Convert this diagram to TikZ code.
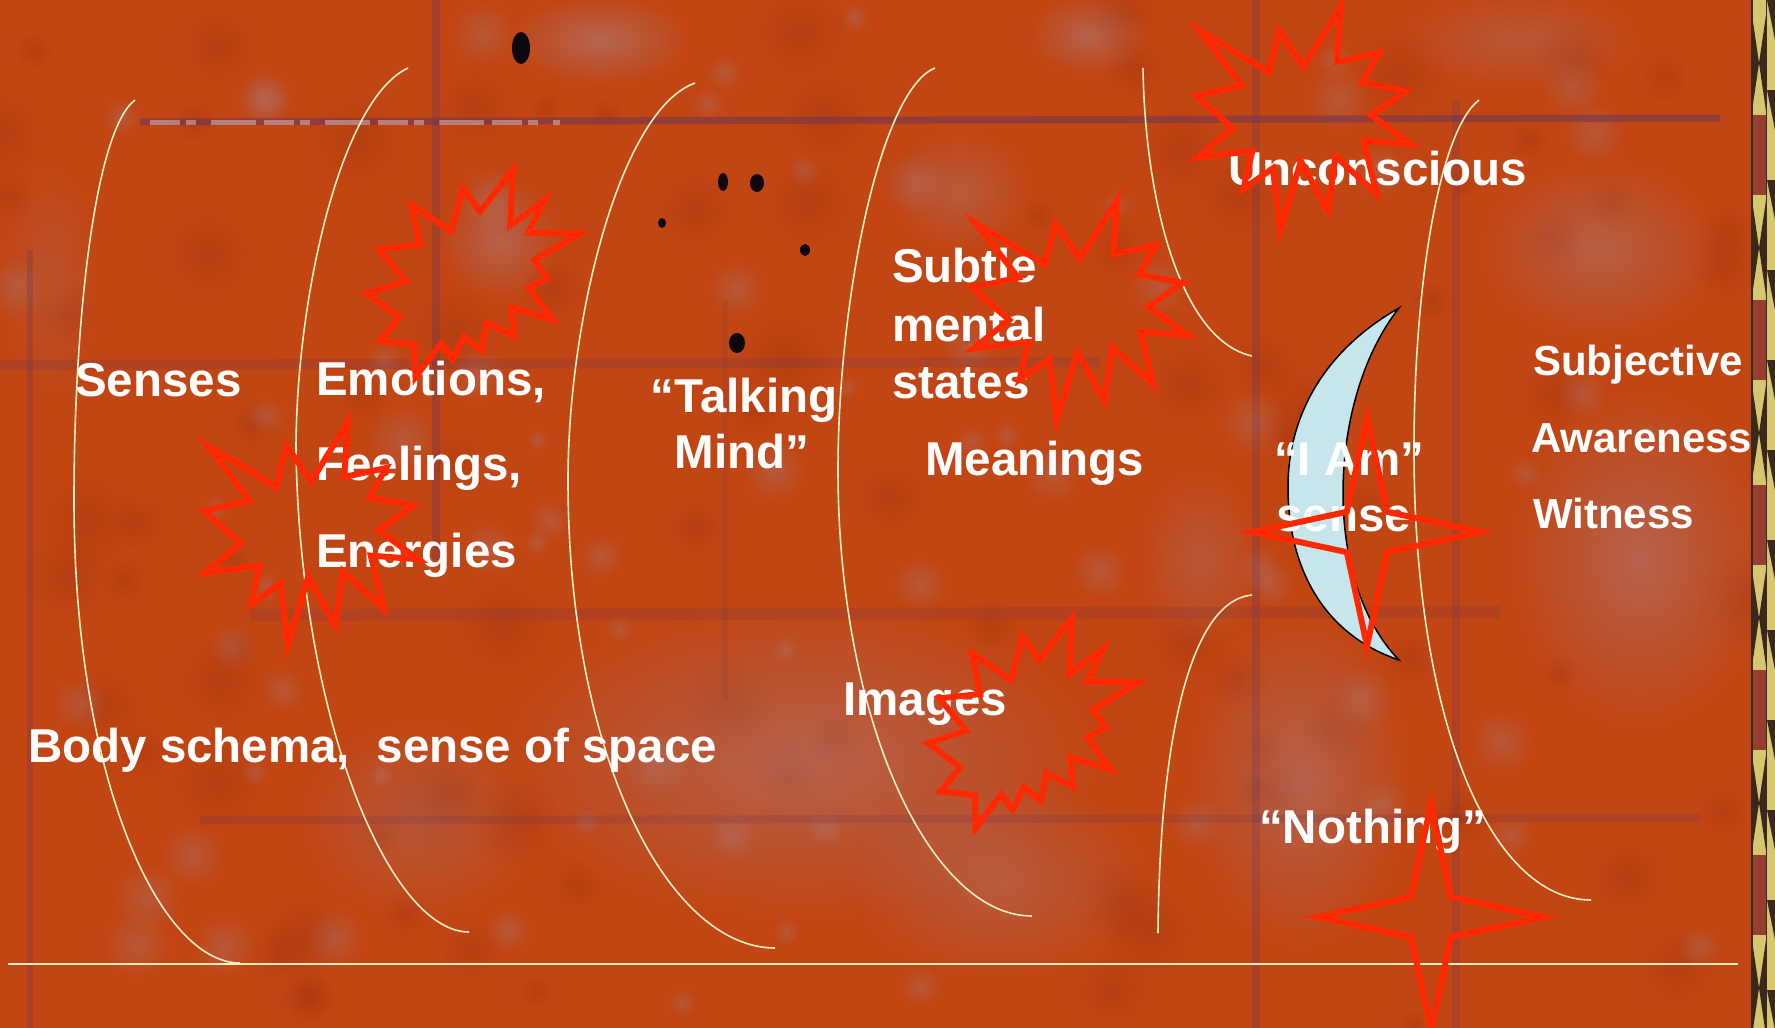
\documentclass[tikz,border=0pt]{standalone}
\usepackage{fontspec}
\setmainfont{Liberation Sans}
\usetikzlibrary{fadings}

\definecolor{rust}{RGB}{194,70,20}
\definecolor{deeprust}{RGB}{160,48,12}
\definecolor{smoke}{RGB}{165,132,145}
\definecolor{bruise}{RGB}{88,48,98}
\definecolor{cream}{RGB}{246,238,192}
\definecolor{flare}{RGB}{255,40,0}
\definecolor{moon}{RGB}{198,230,235}
\definecolor{gold}{RGB}{214,198,112}
\definecolor{stripdark}{RGB}{58,40,28}
\definecolor{brick}{RGB}{150,62,48}

\tikzfading[name=softblob, inner color=transparent!0, outer color=transparent!100]

\tikzset{
  wordtxt/.style={text=white, font=\bfseries\fontsize{47.5}{57}\selectfont, inner sep=0pt, anchor=base west},
  sidetxt/.style={wordtxt, font=\bfseries\fontsize{42}{50}\selectfont},
  bracket/.style={draw=cream, line width=1.6pt},
  boom/.style={draw=flare, line width=6pt, line join=miter},
  sparkle/.style={draw=flare, line width=6pt, line join=miter},
}

% explosion shapes, box at (#1,#2), width #3, height #4
\newcommand{\sealone}[4]{%
  \begin{scope}[shift={(#1,#2)}, xscale=#3/216, yscale=#4/216]
    \draw[boom] (108,58) -- (145.22,0) -- (141.55,53.25) -- (183.8,44.57) -- (167.02,73.15)
      -- (210.97,81.37) -- (176.07,104.75) -- (216,132.9) -- (168.37,129.42) -- (181.45,180.95)
      -- (140.2,144.57) -- (132.47,197.37) -- (105.32,149.35) -- (84.85,216) -- (77.15,156.27)
      -- (47.62,176.17) -- (56.67,139.37) -- (1.35,145.87) -- (37.22,117.75) -- (0,86.15)
      -- (46.27,76.17) -- (3.7,22.95) -- (73.12,63.2) -- (83.52,22.95) -- cycle;
  \end{scope}}
\newcommand{\sealtwo}[4]{%
  \begin{scope}[shift={(#1,#2)}, xscale=#3/216, yscale=#4/216]
    \draw[boom] (114.62,43.42) -- (147.9,0) -- (145.25,57.77) -- (180.07,31.72) -- (163.8,65.32)
      -- (216,66.45) -- (169.85,94.02) -- (182.7,112.9) -- (163.8,123.1) -- (188.77,156.32)
      -- (146.4,143.5) -- (149.42,173.7) -- (121.8,159.35) -- (116.12,188.42) -- (98.72,173.7)
      -- (87,197.12) -- (75.27,181.25) -- (49.17,216) -- (48.05,182.4) -- (12.85,178.25)
      -- (33.3,153.7) -- (0,128.77) -- (39.35,115.92) -- (11.72,82.7) -- (53.72,78.17)
      -- (45.02,36.25) -- (85.5,63.82) -- (97.22,18.87) -- cycle;
  \end{scope}}
% four pointed star, centre (#1,#2), radius #3
\newcommand{\fourstar}[3]{%
  \draw[sparkle] (#1,#2-#3) -- ({#1+0.177*#3},{#2-0.177*#3}) -- (#1+#3,#2)
    -- ({#1+0.177*#3},{#2+0.177*#3}) -- (#1,#2+#3) -- ({#1-0.177*#3},{#2+0.177*#3})
    -- (#1-#3,#2) -- ({#1-0.177*#3},{#2-0.177*#3}) -- cycle;}

\begin{document}
\begin{tikzpicture}[x=1pt,y=-1pt]
  \useasboundingbox (0,0) rectangle (1775,1028);
  \clip (0,0) rectangle (1775,1028);

  % rusty background
  \fill[rust] (0,0) rectangle (1775,1028);
  \pgfmathsetseed{7}
  \foreach \k in {1,...,90} {
    \pgfmathsetmacro\px{rnd*1750}
    \pgfmathsetmacro\py{rnd*1028}
    \pgfmathsetmacro\pr{15+rnd*35}
    \fill[deeprust, opacity=0.35, path fading=softblob] (\px,\py) circle (\pr);
  }
  \foreach \bx/\by/\brx/\bry/\bo in {600/40/90/45/0.5, 1090/35/60/40/0.45, 500/240/60/60/0.45,
      960/190/70/60/0.35, 1600/250/120/90/0.4, 1640/560/130/170/0.45, 800/760/300/160/0.45,
      1300/780/110/170/0.45, 420/820/120/100/0.3, 1000/880/150/100/0.35, 1520/40/120/50/0.3,
      50/280/50/120/0.2, 1200/560/60/90/0.3}
    \fill[smoke, opacity=\bo, path fading=softblob] (\bx,\by) ellipse ({\brx} and {\bry});
  \foreach \k in {1,...,70} {
    \pgfmathsetmacro\px{rnd*1750}
    \pgfmathsetmacro\py{rnd*1028}
    \pgfmathsetmacro\pr{10+rnd*25}
    \fill[smoke, opacity=0.3, path fading=softblob] (\px,\py) circle (\pr);
  }
  \draw[bruise, opacity=0.45, line width=7pt] (140,122) -- (1720,118);
  \draw[white, opacity=0.35, line width=5pt, dash pattern=on 30pt off 6pt on 10pt off 15pt on 45pt off 8pt] (150,122) -- (560,122);
  \draw[bruise, opacity=0.18, line width=10pt] (0,365) -- (1100,362);
  \draw[bruise, opacity=0.15, line width=12pt] (250,615) -- (1500,612);
  \draw[bruise, opacity=0.18, line width=8pt] (200,820) -- (1700,818);
  \draw[bruise, opacity=0.28, line width=8pt] (436,0) -- (436,560);
  \draw[bruise, opacity=0.22, line width=8pt] (1256,0) -- (1256,1028);
  \draw[bruise, opacity=0.2, line width=8pt] (1456,100) -- (1456,1028);
  \draw[bruise, opacity=0.25, line width=6pt] (30,250) -- (30,1028);
  \draw[bruise, opacity=0.12, line width=6pt] (725,300) -- (725,700);
  \foreach \dx/\dy/\drx/\dry in {521/48/9/16, 723/182/5/9, 757/183/7/9, 662/223/4/5, 805/250/5/6, 737/343/8/10}
    \fill[black!85!bruise] (\dx,\dy) ellipse ({\drx} and {\dry});

  % border strip
  \fill[gold] (1752,0) rectangle (1775,1028);
  \foreach \ya in {15,200,385,570,755,940} {
    \fill[stripdark] (1752,\ya) -- (1759,\ya+48) -- (1752,\ya+96) -- cycle;
    \fill[stripdark] (1766,\ya) -- (1759,\ya+48) -- (1766,\ya+96) -- cycle;
    \fill[brick] (1752,\ya+100) rectangle (1766,\ya+180);
  }
  \foreach \yb in {0,90,...,990}
    \fill[stripdark] (1767,\yb) -- (1775,\yb) -- (1775,\yb+40) -- cycle;
  \draw[stripdark, line width=1.5pt] (1752,0) -- (1752,1028);
  \draw[stripdark, line width=1pt] (1766,0) -- (1766,1028);

  % brackets
  \draw[bracket] (135,100) .. controls (95,130) and (74,320) .. (74,500)
    .. controls (74,780) and (160,963) .. (240,963);
  \draw[bracket] (408,68) .. controls (340,100) and (296,300) .. (296,450)
    .. controls (300,720) and (390,932) .. (469,932);
  \draw[bracket] (695,83) .. controls (620,110) and (568,320) .. (568,480)
    .. controls (568,760) and (670,948) .. (775,948);
  \draw[bracket] (935,68) .. controls (880,90) and (838,300) .. (838,470)
    .. controls (838,720) and (930,916) .. (1032,916);
  \draw[bracket] (1143,68) .. controls (1145,200) and (1180,340) .. (1252,356);
  \draw[bracket] (1252,595) .. controls (1195,600) and (1160,720) .. (1158,933);
  \draw[bracket] (1479,100) .. controls (1440,130) and (1414,280) .. (1414,450)
    .. controls (1414,720) and (1490,900) .. (1591,900);
  \draw[bracket] (8,964) -- (1738,964);

  % labels
  \node[wordtxt] (senses) at (75,396) {Senses};
  \node[wordtxt] (emotions) at (316,395) {Emotions,};
  \node[wordtxt] (feelings) at (316,480) {Feelings,};
  \node[wordtxt] (energies) at (316,567) {Energies};
  \node[wordtxt, anchor=base] (talking) at (744,412) {“Talking};
  \node[wordtxt, anchor=base] (mind) at (742,468) {Mind”};
  \node[wordtxt] (subtle) at (892,282) {Subtle};
  \node[wordtxt] (mental) at (892,341) {mental};
  \node[wordtxt] (states) at (892,398) {states};
  \node[wordtxt] (meanings) at (925,475) {Meanings};
  \node[wordtxt] (unconscious) at (1228,185) {Unconscious};
  \node[wordtxt] (images) at (843,715) {Images};
  \node[wordtxt] (nothing) at (1259,843) {“Nothing”};
  \node[wordtxt] (body) at (28,762) {Body schema,\ \ sense of space};
  \node[sidetxt] (subjective) at (1533,375) {Subjective};
  \node[sidetxt] (awareness) at (1531,452) {Awareness};
  \node[sidetxt] (witness) at (1533,528) {Witness};

  % moon
  \filldraw[fill=moon, draw=black, line width=1.5pt] (1399,308)
    .. controls (1325,350) and (1288,415) .. (1288,487)
    .. controls (1288,570) and (1325,635) .. (1399,660)
    .. controls (1362,622) and (1343,560) .. (1343,493)
    .. controls (1343,425) and (1362,355) .. (1399,308) -- cycle;
  \node[wordtxt] (iam) at (1274,475) {“I Am”};
  \node[wordtxt] (sense) at (1276,531) {sense};

  % explosions and stars
  \sealtwo{367}{170}{213}{207}
  \sealone{204}{422}{214}{223}
  \sealone{972}{200}{216}{220}
  \sealtwo{928}{618}{210}{210}
  \sealone{1196}{7}{215}{223}
  \fourstar{1367}{532}{114}
  \fourstar{1431}{917}{113}
\end{tikzpicture}
\end{document}
